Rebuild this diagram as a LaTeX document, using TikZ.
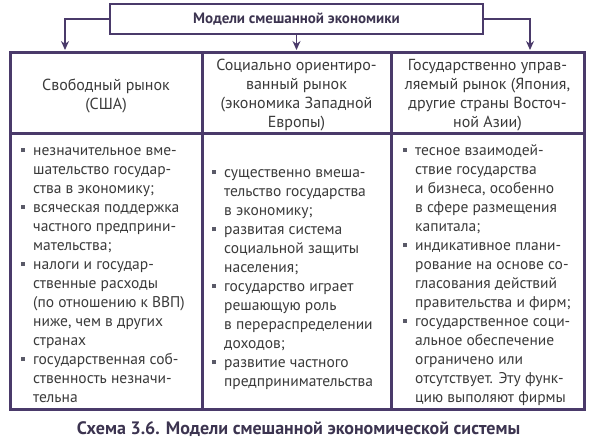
\documentclass[tikz,border=0pt]{standalone}
\usepackage{fontspec}
\setmainfont{PT Sans}
\usetikzlibrary{arrows.meta}
\definecolor{framec}{HTML}{4A3A6A}
\definecolor{txtc}{HTML}{3A3A3A}
\definecolor{titlec}{HTML}{3C3450}
\definecolor{bulc}{HTML}{5A5A68}
\newcommand{\bul}{\leavevmode\llap{\textcolor{bulc}{\rule[0.22em]{3.6pt}{3.6pt}}\hspace{8.5pt}}}
\begin{document}
\begin{tikzpicture}[x=1pt,y=-1pt,
  frameline/.style={draw=framec,line width=3pt},
  conn/.style={draw=framec,line width=1.4pt,-{Stealth[length=9pt,width=8pt]}},
  headtext/.style={align=center,font=\fontsize{16}{19}\selectfont,text=txtc,inner sep=0pt},
  items/.style={align=left,anchor=north west,font=\fontsize{15.5}{19}\selectfont,text=txtc,inner sep=0pt}
]
\useasboundingbox (0,0) rectangle (602,440);
% title
\node[draw=framec,line width=2.5pt,minimum width=373pt,minimum height=30pt,inner sep=0pt,
      font=\bfseries\fontsize{15}{18}\selectfont,text=titlec] (title) at (296.5,19) {Модели смешанной экономики};
% table frame
\draw[frameline] (10,52) rectangle (584,409);
\draw[frameline] (10,133) -- (584,133);
\draw[frameline] (202,52) -- (202,409);
\draw[frameline] (391,52) -- (391,409);
% arrow targets
\coordinate (t1) at (65,50);
\coordinate (t2) at (296.5,50);
\coordinate (t3) at (530,50);
\draw[conn] (title.west) -| (t1);
\draw[conn] (title.south) -- (t2);
\draw[conn] (title.east) -| (t3);
% headers
\node[headtext] (h1) at (106,96) {Свободный рынок\\(США)};
\node[headtext] (h2) at (296.5,95) {Социально ориентиро-\\ванный рынок\\(экономика Западной\\Европы)};
\node[headtext] (h3) at (487.5,95) {Государственно управ-\\ляемый рынок (Япония,\\другие страны Восточ-\\ной Азии)};
% bodies
\node[items] (b1) at (33,142) {\strut\bul незначительное вме-\\шательство государ-\\ства в экономику;\\\bul всяческая поддержка\\частного предприни-\\мательства;\\\bul налоги и государ-\\ственные расходы\\(по отношению к ВВП)\\ниже, чем в других\\странах\\\bul государственная соб-\\ственность незначи-\\тельна};
\node[items] (b2) at (224,164) {\strut\bul существенно вмеша-\\тельство государства\\в экономику;\\\bul развитая система\\социальной защиты\\населения;\\\bul государство играет\\решающую роль\\в перераспределении\\доходов;\\\bul развитие частного\\предпринимательства};
\node[items] (b3) at (415,142) {\strut\bul тесное взаимодей-\\ствие государства\\и бизнеса, особенно\\в сфере размещения\\капитала;\\\bul индикативное плани-\\рование на основе со-\\гласования действий\\правительства и фирм;\\\bul государственное соци-\\альное обеспечение\\ограничено или\\отсутствует. Эту функ-\\цию выполяют фирмы};
% caption
\node[font=\bfseries\fontsize{18}{21}\selectfont,text=titlec,inner sep=0pt] (cap) at (298.5,429) {Схема 3.6. Модели смешанной экономической системы};
\end{tikzpicture}
\end{document}
